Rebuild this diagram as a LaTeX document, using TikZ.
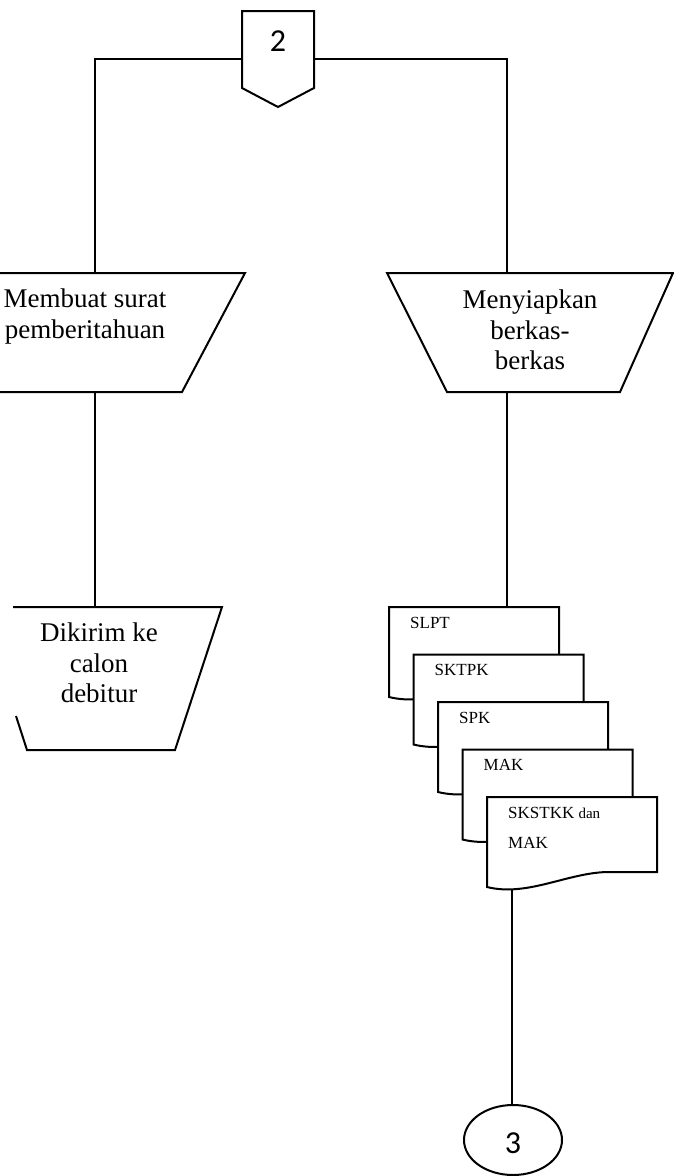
\documentclass[tikz,border=0pt]{standalone}
\usepackage{fontspec}
\setmainfont{Liberation Serif}
\newfontfamily\digitfont{Carlito}
\usetikzlibrary{calc}
\begin{document}
\begin{tikzpicture}[x=1pt,y=-1pt,
  shapeline/.style={line width=2pt, line join=miter},
  conn/.style={line width=1.5pt},
  bigtext/.style={align=center, inner sep=0pt, font=\fontsize{27}{30.5}\selectfont},
  doctext/.style={anchor=base west, inner sep=0pt, font=\fontsize{17}{30}\selectfont},
  docshape/.style={shapeline, fill=white},
  numtext/.style={inner sep=0pt, font=\digitfont\fontsize{32}{32}\selectfont}]
\useasboundingbox (0,0) rectangle (674,1176);
\clip (0,0) rectangle (674,1176);
\fill[white] (0,0) rectangle (674,1176);

% off-page connector 2
\draw[shapeline] (242,11) -- (314,11) -- (314,88) -- (278,107) -- (242,88) -- cycle;
\node[numtext] (n2) at (278,41) {2};
\coordinate (p2w) at (242,59);
\coordinate (p2e) at (314,59);

% left manual operation (upper)
\draw[shapeline] (-60,273) -- (245,273) -- (182,392) -- (-2,392);
\node[bigtext] (t1) at (85,316.5) {Membuat surat\\pemberitahuan};
\coordinate (t1top) at (95,273);
\coordinate (t1bot) at (95,392);

% right manual operation
\draw[shapeline] (387,273) -- (673,273) -- (620,392) -- (447,392) -- cycle;
\node[bigtext] (t2) at (530,330) {Menyiapkan\\berkas-\\berkas};
\coordinate (t2top) at (507,273);
\coordinate (t2bot) at (507,392);

% left manual operation (lower)
\draw[shapeline] (13,607) -- (222,607) -- (175,750) -- (27,750) -- (16,716);
\node[bigtext] (t3) at (99,663) {Dikirim ke\\calon\\debitur};
\coordinate (t3top) at (95,607);

% connectors top
\draw[conn] (p2w) -| (t1top);
\draw[conn] (p2e) -| (t2top);
\draw[conn] (t1bot) -- (t3top);

% document stack
\foreach \L/\T [count=\i] in {389/607, 413.5/654.5, 438/702, 462.5/749.5, 487/797} {
  \draw[docshape] (\L,\T) -- (\L+170,\T) -- (\L+170,\T+75)
    -- (\L+120,\T+75) .. controls (\L+80,\T+76) and (\L+40,\T+100) .. (\L,\T+90) -- cycle;
}
\node[doctext] (d1) at (410,628) {SLPT};
\node[doctext] (d2) at (434.5,675.5) {SKTPK};
\node[doctext] (d3) at (459,723) {SPK};
\node[doctext] (d4) at (483.5,770.5) {MAK};
\node[doctext] (d5) at (508,818) {SKSTKK \fontsize{15}{30}\selectfont dan};
\node[doctext] (d5b) at (508,848) {MAK};
\coordinate (doctop) at (507,607);
\coordinate (docbot) at (512,890);

\draw[conn] (t2bot) -- (doctop);

% on-page connector 3
\draw[shapeline] (513,1140) ellipse [x radius=49, y radius=35];
\node[numtext] (n3) at (513,1143) {3};
\coordinate (c3top) at (512,1105);
\draw[conn] (docbot) -- (c3top);
\end{tikzpicture}
\end{document}
